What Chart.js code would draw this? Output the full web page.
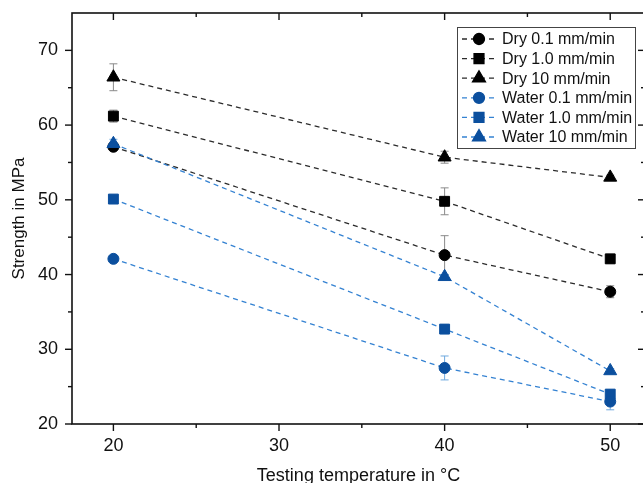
<!DOCTYPE html>
<html>
<head>
<meta charset="utf-8">
<script src="https://cdn.jsdelivr.net/npm/chart.js"></script>
<style>
  html, body { margin: 0; padding: 0; background: #fff; overflow: hidden; }
  canvas { display: block; }
</style>
</head>
<body>
<canvas id="strength" width="646" height="483"></canvas>
<script>
// testing temperatures (°C)
const temps = [20, 40, 50]

// mean strength in MPa and the +/- spread for each series
const dry01 = [57.1, 42.6, 37.7]
const dry01Err = [0.4, 2.6, 0.8]
const dry10 = [61.2, 49.8, 42.1]
const dry10Err = [0.8, 1.8, 0.6]
const dry100 = [66.4, 55.7, 53.0]
const dry100Err = [1.8, 0.8, 0.3]
const water01 = [42.1, 27.5, 23.0]
const water01Err = [0.3, 1.6, 1.1]
const water10 = [50.1, 32.7, 24.0]
const water10Err = [0.3, 0.6, 0.6]
const water100 = [57.5, 39.7, 27.1]
const water100Err = [0.6, 0.3, 0.3]

const labels = ["Dry 0.1 mm/min", "Dry 1.0 mm/min", "Dry 10 mm/min",
                "Water 0.1 mm/min", "Water 1.0 mm/min", "Water 10 mm/min"]

const xTicks = [20, 30, 40, 50]
const xMinor = [25, 35, 45]
const yTicks = [20, 30, 40, 50, 60, 70]
const yMinor = [25, 35, 45, 55, 65]

const dryMarker = "#000000"
const dryLine = "#2b2b2b"
const dryErr = "#8a8a8a"
const waterMarker = "#0b4f9e"
const waterLine = "#3482d2"
const waterErr = "#6fa9df"

const series = (label, vals, errs, style, radius, marker, line, errCol, order) => ({
    label: label,
    data: temps.map((t, i) => ({x: t, y: vals[i]})),
    errors: errs,
    errColor: errCol,
    order: order,
    borderColor: line,
    borderWidth: 1.3,
    borderDash: [5, 4],
    pointStyle: style,
    pointRadius: radius,
    pointBackgroundColor: marker,
    pointBorderColor: marker,
    pointBorderWidth: 1,
    fill: false,
    tension: 0
})

const datasets = [
    series(labels[0], dry01, dry01Err, "circle", 5.5, dryMarker, dryLine, dryErr, 1),
    series(labels[1], dry10, dry10Err, "rect", 7, dryMarker, dryLine, dryErr, 1),
    series(labels[2], dry100, dry100Err, "triangle", 7.5, dryMarker, dryLine, dryErr, 1),
    series(labels[3], water01, water01Err, "circle", 5.5, waterMarker, waterLine, waterErr, 0),
    series(labels[4], water10, water10Err, "rect", 7, waterMarker, waterLine, waterErr, 0),
    series(labels[5], water100, water100Err, "triangle", 7.5, waterMarker, waterLine, waterErr, 0)
]

// vertical error bars with small caps, behind the markers
const errorBars = {
    id: "errorBars",
    beforeDatasetsDraw(chart) {
        const ctx = chart.ctx
        const yScale = chart.scales.y
        chart.data.datasets.forEach((ds, i) => {
            const meta = chart.getDatasetMeta(i)
            ctx.save()
            ctx.strokeStyle = ds.errColor
            ctx.lineWidth = 1
            meta.data.forEach((pt, j) => {
                const v = ds.data[j].y
                const e = ds.errors[j]
                const top = yScale.getPixelForValue(v + e)
                const bot = yScale.getPixelForValue(v - e)
                ctx.beginPath()
                ctx.moveTo(pt.x, top); ctx.lineTo(pt.x, bot)
                ctx.moveTo(pt.x - 4, top); ctx.lineTo(pt.x + 4, top)
                ctx.moveTo(pt.x - 4, bot); ctx.lineTo(pt.x + 4, bot)
                ctx.stroke()
            })
            ctx.restore()
        })
    }
}

// box frame with outward ticks on left/bottom, inward ticks on top/right
const frame = {
    id: "frame",
    afterDraw(chart) {
        const ctx = chart.ctx
        const {left, right, top, bottom} = chart.chartArea
        const xs = chart.scales.x
        const ys = chart.scales.y
        ctx.save()
        ctx.strokeStyle = "#111"
        ctx.lineWidth = 1.6
        ctx.strokeRect(left, top, right - left, bottom - top)
        const tick = (x1, y1, x2, y2) => { ctx.beginPath(); ctx.moveTo(x1, y1); ctx.lineTo(x2, y2); ctx.stroke() }
        ctx.lineWidth = 1.4
        xTicks.concat(xMinor).forEach(v => {
            const len = xTicks.includes(v) ? 7 : 4
            const px = xs.getPixelForValue(v)
            tick(px, bottom, px, bottom + len)
            tick(px, top, px, top + len)
        })
        yTicks.concat(yMinor).forEach(v => {
            const len = yTicks.includes(v) ? 7 : 4
            const py = ys.getPixelForValue(v)
            tick(left, py, left - len, py)
            tick(right, py, right - len, py)
        })
        ctx.restore()
    }
}

// legend: dashed line sample with marker, then the label
const legendBox = {
    id: "legendBox",
    afterDraw(chart) {
        const ctx = chart.ctx
        const bx = 457, by = 27, bw = 178, bh = 121
        ctx.save()
        ctx.fillStyle = "#fff"
        ctx.fillRect(bx, by, bw, bh)
        ctx.strokeStyle = "#444"
        ctx.lineWidth = 1
        ctx.strokeRect(bx + 0.5, by + 0.5, bw, bh)
        chart.data.datasets.forEach((ds, i) => {
            const y = 39 + i * 19.6
            ctx.strokeStyle = ds.borderColor
            ctx.lineWidth = 1.3
            ctx.setLineDash([5, 4])
            ctx.beginPath()
            ctx.moveTo(462, y); ctx.lineTo(497, y)
            ctx.stroke()
            ctx.setLineDash([])
            ctx.fillStyle = ds.pointBackgroundColor
            ctx.strokeStyle = ds.pointBorderColor
            Chart.helpers.drawPoint(ctx, {pointStyle: ds.pointStyle, radius: ds.pointRadius, borderWidth: 1}, 479, y)
            ctx.fillStyle = "#111"
            ctx.font = "16px 'Liberation Sans', Arial, sans-serif"
            ctx.textBaseline = "middle"
            ctx.textAlign = "left"
            ctx.fillText(ds.label, 502, y + 1)
        })
        ctx.restore()
    }
}

const axisFont = {family: "'Liberation Sans', Arial, sans-serif", size: 18}

new Chart(document.getElementById("strength"), {
    type: "line",
    data: {datasets: datasets},
    plugins: [errorBars, frame, legendBox],
    options: {
        responsive: false,
        animation: false,
        layout: {autoPadding: false, padding: {left: 0, top: 13, right: 1, bottom: 0}},
        plugins: {legend: {display: false}, tooltip: {enabled: false}},
        scales: {
            x: {
                type: "linear",
                min: 17.5,
                max: 52.1,
                grid: {display: false, drawTicks: false},
                border: {display: false},
                afterBuildTicks: s => { s.ticks = xTicks.map(v => ({value: v})) },
                afterFit: s => { s.height = 59; s.paddingLeft = 0; s.paddingRight = 0 },
                ticks: {color: "#111", font: axisFont, padding: 11},
                title: {
                    display: true,
                    text: "Testing temperature in °C",
                    color: "#111",
                    font: {family: axisFont.family, size: 18, lineHeight: 1},
                    padding: {top: 0, bottom: -2}
                }
            },
            y: {
                min: 20,
                max: 75,
                grid: {display: false, drawTicks: false},
                border: {display: false},
                afterBuildTicks: s => { s.ticks = yTicks.map(v => ({value: v})) },
                afterFit: s => { s.width = 72; s.paddingTop = 0; s.paddingBottom = 0 },
                ticks: {color: "#111", font: axisFont, padding: 14},
                title: {
                    display: true,
                    text: "Strength in MPa",
                    color: "#111",
                    font: {family: axisFont.family, size: 17, lineHeight: 1},
                    padding: {top: 11, bottom: 0}
                }
            }
        }
    }
})
</script>
</body>
</html>
